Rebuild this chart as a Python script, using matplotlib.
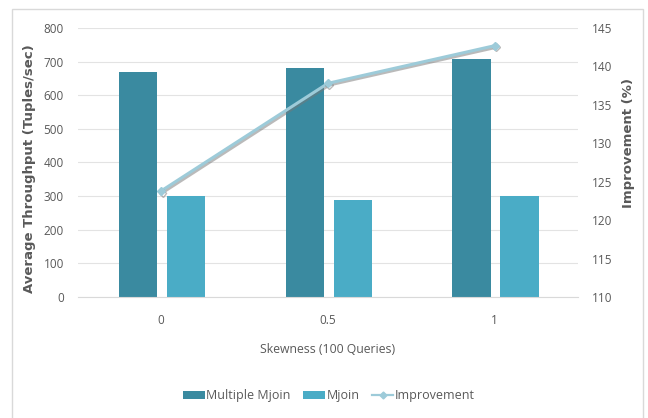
import matplotlib
matplotlib.use("Agg")
import matplotlib.pyplot as plt
import matplotlib.patheffects as pe
from matplotlib.patches import Rectangle
from matplotlib.lines import Line2D
import numpy as np

plt.rcParams['font.family'] = ['Open Sans', 'DejaVu Sans']

# throughput per skewness setting
skew = ['0', '0.5', '1']
multi_mjoin = [668, 680, 708]
mjoin = [300, 288, 300]
improvement = [123.8, 137.8, 142.7]

c_multi = '#3a8aa0'
c_mjoin = '#4aacc6'
c_line = '#9dcbd9'
c_text = '#595959'

fig = plt.figure(figsize=(6.48, 4.18), dpi=100)
ax = fig.add_axes([0.120, 0.2895, 0.772, 0.6435])

x = np.arange(len(skew))
w = 0.23
ax.bar(x - 0.138, multi_mjoin, w, color=c_multi, label='Multiple Mjoin', zorder=2)
ax.bar(x + 0.15, mjoin, w, color=c_mjoin, label='Mjoin', zorder=2)

ax.set_xlim(-0.5, 2.5)
ax.set_ylim(0, 800)
ax.set_yticks(range(0, 801, 100))
ax.set_xticks(x)
ax.set_xticklabels(skew)
ax.grid(axis='y', color='#e3e3e3', lw=0.8, zorder=0)
for s in ['top', 'left', 'right']:
    ax.spines[s].set_visible(False)
ax.spines['bottom'].set_color('#d9d9d9')
ax.tick_params(length=0, colors=c_text, labelsize=8.5)
ax.tick_params(axis='y', pad=10)
ax.tick_params(axis='x', pad=12)
ax.set_ylabel('Average Throughput (Tuples/sec)', color=c_text, fontsize=9.5,
              fontweight='bold', family='DejaVu Sans')
ax.yaxis.set_label_coords(-0.084, 0.476)
ax.set_xlabel('Skewness (100 Queries)', color=c_text, fontsize=8.8, labelpad=12)

ax2 = ax.twinx()
ax2.plot(x, improvement, color=c_line, lw=2.2, marker='D', ms=4, zorder=3,
         path_effects=[pe.SimpleLineShadow(offset=(1, -1.2), shadow_color='#777777', alpha=0.5),
                       pe.Normal()])
ax2.set_ylim(110, 145)
ax2.set_yticks(range(110, 146, 5))
for s in ax2.spines.values():
    s.set_visible(False)
ax2.tick_params(length=0, colors=c_text, labelsize=8.5, pad=10)
ax2.set_ylabel('Improvement (%)', color=c_text, fontsize=9.5, fontweight='bold',
               family='DejaVu Sans')
ax2.yaxis.set_label_coords(1.088, 0.572)

h1, l1 = ax.get_legend_handles_labels()
h_line = Line2D([], [], color=c_line, lw=1.6, marker='D', ms=3.5)
leg = fig.legend(h1 + [h_line], l1 + ['Improvement'], loc='center', bbox_to_anchor=(0.508, 0.053),
                 ncol=3, frameon=False, fontsize=9, handlelength=1.7, handleheight=0.7,
                 columnspacing=1.0, handletextpad=0.15)
for t in leg.get_texts():
    t.set_color(c_text)

fig.patches.append(Rectangle((12 / 648, -0.01), 631 / 648, 1 - 9 / 418 + 0.01,
                             transform=fig.transFigure, fill=False,
                             edgecolor='#d9d9d9', lw=1))

fig.savefig('out.png', dpi=100)
